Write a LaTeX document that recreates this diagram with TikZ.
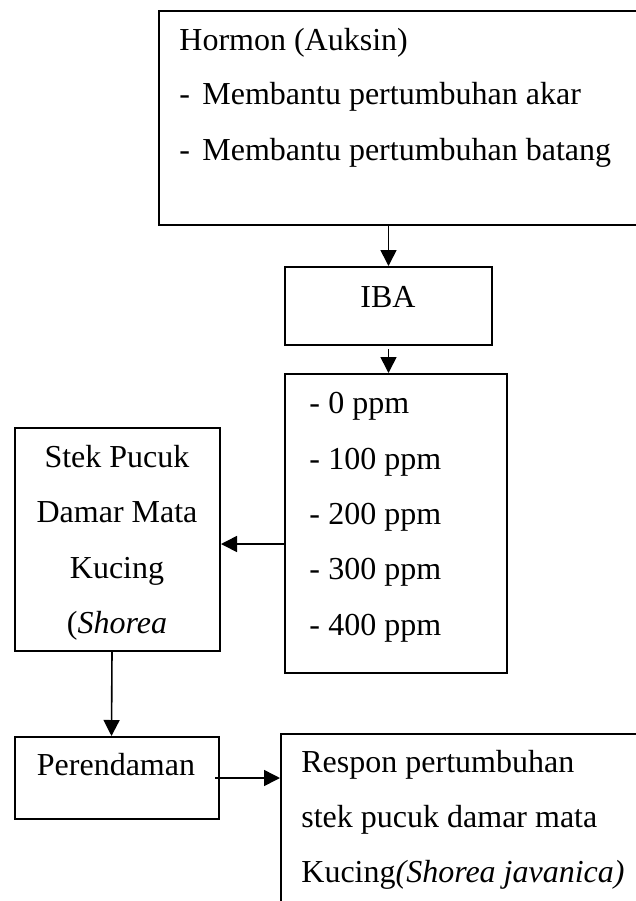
\documentclass[tikz,border=0pt]{standalone}
\usepackage{fontspec}
\setmainfont{Liberation Serif}
\usetikzlibrary{arrows.meta}

\tikzset{
  kotak/.style={draw,line width=1pt,inner sep=0pt,anchor=north west},
  teks/.style={inner sep=0pt,anchor=base west,font=\fontsize{16}{19}\selectfont},
  teksc/.style={teks,anchor=base},
  panah/.style={-{Triangle[length=8pt,width=8pt]},line width=0.8pt}
}
\newcommand{\strip}{\makebox[11.5pt][l]{-}}

\begin{document}
\begin{tikzpicture}[x=0.5pt,y=-0.5pt]
  \clip (0,0) rectangle (636,901);
  % kotak-kotak
  \node[kotak,minimum width=271pt,minimum height=107pt] (hormon) at (158,10) {};
  \node[kotak,minimum width=103.5pt,minimum height=39pt] (iba) at (284,266) {};
  \node[kotak,minimum width=111pt,minimum height=149.5pt] (dosis) at (284,373) {};
  \node[kotak,minimum width=102.5pt,minimum height=111.5pt] (stek) at (14,427) {};
  \node[kotak,minimum width=102pt,minimum height=41pt] (rendam) at (14,736) {};
  \node[kotak,minimum width=210pt,minimum height=108.5pt] (respon) at (280,733) {};
  % isi teks
  \node[teks] (judul) at (179,50) {Hormon (Auksin)};
  \node[teks] (akar) at (179,104) {\strip Membantu pertumbuhan akar};
  \node[teks] (batang) at (179,160) {\strip Membantu pertumbuhan batang};
  \node[teksc] (ibateks) at (388,307) {IBA};
  \foreach \k/\v/\y in {a/0/413,b/100/469,c/200/524,d/300/579,e/400/635}{
    \node[teks] (ppm\k) at (309,\y) {\makebox[9.5pt][l]{-}\v{} ppm};  }
  \node[teksc] (stek1) at (117,467) {Stek Pucuk};
  \node[teksc] (stek2) at (117,522) {Damar Mata};
  \node[teksc] (stek3) at (117,578) {Kucing};
  \node[teksc] (stek4) at (117,633) {(\textit{Shorea}};
  \node[teksc] (rendamteks) at (116,775) {Perendaman};
  \node[teks] (respon1) at (301,772) {Respon pertumbuhan};
  \node[teks] (respon2) at (301,827) {stek pucuk damar mata};
  \node[teks] (respon3) at (301,882) {Kucing\textit{(Shorea javanica)}};
  % panah
  \draw[panah] (iba.north |- hormon.south) -- (iba.north);
  \draw[panah] ([yshift=-1.5pt]iba.south) -- (iba.south |- dosis.north);
  \draw[panah] ([yshift=-2.25pt]dosis.west |- stek.east) -- ([yshift=-2.25pt]stek.east);
  \draw[panah] ([xshift=-2.75pt]stek.south) -- ([xshift=-2.75pt]rendam.north);
  \draw[panah] ([xshift=-2.5pt]rendam.east) -- (respon.west |- rendam.east);
\end{tikzpicture}
\end{document}
